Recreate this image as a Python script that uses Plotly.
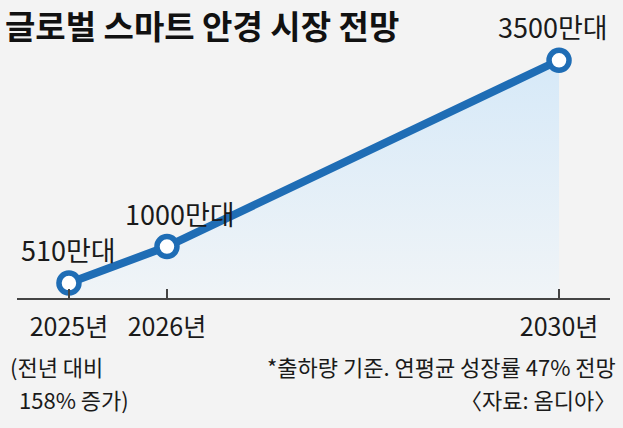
import plotly.graph_objects as go

years = [2025, 2026, 2030]
values = [510, 1000, 3500]
unit = "만대"
tick_labels = ["2025년", "2026년", "2030년"]
title_text = "글로벌 스마트 안경 시장 전망"
note_2025 = ["(전년 대비", "158% 증가)"]
footnotes = ["*출하량 기준. 연평균 성장률 47% 전망", "〈자료: 옴디아〉"]

BLUE = "#1f6db5"
BG = "#f3f3f3"
KR = "Noto Sans CJK KR, sans-serif"
TXT = "#1a1a1a"

fig = go.Figure()
fig.add_trace(go.Scatter(
    x=years, y=values, mode="lines+markers",
    line=dict(color=BLUE, width=8),
    marker=dict(size=20, color="white", line=dict(color=BLUE, width=5.5)),
    fill="tozeroy",
    fillgradient=dict(type="vertical", start=309, stop=3500,
                      colorscale=[[0, "rgba(240,244,247,1)"], [1, "rgba(214,233,248,1)"]]),
    hoverinfo="skip", showlegend=False,
))

# data labels
label_xshift = [0, 13, -6]
for x, v, dx in zip(years, values, label_xshift):
    fig.add_annotation(
        x=x, y=v, xref="x", yref="y",
        text=f"{v}{unit}",
        showarrow=False, yanchor="bottom", yshift=12, xshift=dx,
        font=dict(family=KR, size=27, color=TXT),
    )

# 2025 note
fig.add_annotation(x=-0.0152, y=-0.264, xref="paper", yref="paper",
                   text=note_2025[0], showarrow=False, xanchor="left", yanchor="middle",
                   font=dict(family=KR, size=22, color=TXT))
fig.add_annotation(x=0.0, y=-0.39, xref="paper", yref="paper",
                   text=note_2025[1], showarrow=False, xanchor="left", yanchor="middle",
                   font=dict(family=KR, size=22, color=TXT))

# footnotes
fig.add_annotation(x=1.0135, y=-0.264, xref="paper", yref="paper",
                   text=footnotes[0], showarrow=False, xanchor="right", yanchor="middle",
                   font=dict(family=KR, size=22, color=TXT))
fig.add_annotation(x=1.0135, y=-0.39, xref="paper", yref="paper",
                   text=footnotes[1], showarrow=False, xanchor="right", yanchor="middle",
                   font=dict(family=KR, size=22, color=TXT))

fig.update_layout(
    width=623, height=428,
    margin=dict(l=17, r=13, t=40, b=130),
    paper_bgcolor=BG, plot_bgcolor=BG,
    title=dict(text=title_text, x=0.008, xanchor="left", y=0.935, yanchor="middle",
               font=dict(family=KR, size=33, color="#111111", weight="bold")),
    xaxis=dict(range=[2024.47, 2030.52], tickvals=years, ticktext=tick_labels,
               showgrid=False, zeroline=False, showline=True, linecolor="#444444", linewidth=1.5,
               ticks="inside", ticklen=9, tickwidth=1.5, tickcolor="#444444", automargin=False,
               tickfont=dict(family=KR, size=25, color=TXT), ticklabelstandoff=6),
    yaxis=dict(range=[309, 3772], visible=False, automargin=False),
)

fig.write_html("out.html", config={"displayModeBar": False},
               post_script="document.body.style.margin='0';")
